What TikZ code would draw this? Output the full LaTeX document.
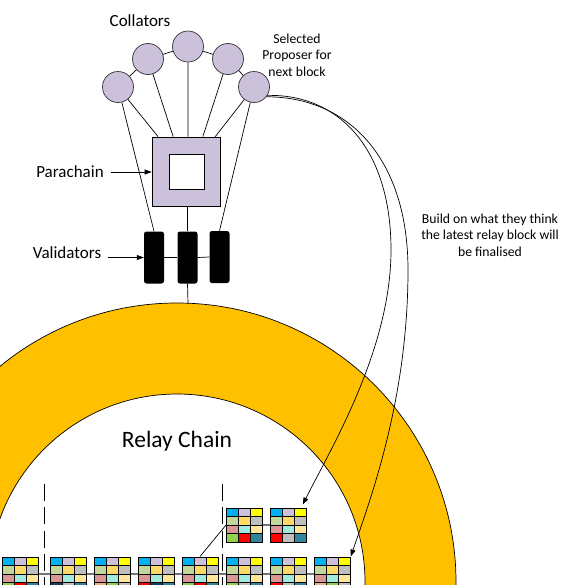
\documentclass[tikz,border=0pt]{standalone}
\usepackage{fontspec}
\setmainfont{Carlito}
\usetikzlibrary{arrows.meta,calc}
\definecolor{ringcol}{HTML}{FFC000}
\definecolor{lav}{HTML}{CCC1DA}
\definecolor{cblue}{HTML}{00B0F0}
\definecolor{clav}{HTML}{CCC0DA}
\definecolor{cyel}{HTML}{FFFF00}
\definecolor{colive}{HTML}{C4D79B}
\definecolor{cgold}{HTML}{FFD966}
\definecolor{cgray}{HTML}{BFBFBF}
\definecolor{crose}{HTML}{DA9694}
\definecolor{caqua}{HTML}{A0EADE}
\definecolor{cly}{HTML}{FFE699}
\definecolor{cgreen}{HTML}{92D050}
\definecolor{cred}{HTML}{FF0000}
\definecolor{cteal}{HTML}{31859C}
\definecolor{cnavy}{HTML}{1F3864}
\definecolor{corange}{HTML}{F4B084}
\newcommand{\chainblock}[6]{%
  \begin{scope}[shift={(#2,#3)}]
    \fill[cblue] (0,0) rectangle (12,8.5);
    \fill[clav] (12,0) rectangle (24,8.5);
    \fill[cyel] (24,0) rectangle (36,8.5);
    \fill[colive] (0,8.5) rectangle (12,17);
    \fill[cgold] (12,8.5) rectangle (24,17);
    \fill[cgray] (24,8.5) rectangle (36,17);
    \fill[crose] (0,17) rectangle (12,25.5);
    \fill[caqua] (12,17) rectangle (24,25.5);
    \fill[cly] (24,17) rectangle (36,25.5);
    \fill[#4] (0,25.5) rectangle (12,34);
    \fill[#5] (12,25.5) rectangle (24,34);
    \fill[#6] (24,25.5) rectangle (36,34);
    \draw[cellline] (12,0) -- (12,34) (24,0) -- (24,34) (0,8.5) -- (36,8.5) (0,17) -- (36,17) (0,25.5) -- (36,25.5);
  \end{scope}
  \node[blockbox] (#1) at (#2+18,#3+17) {};
}
\begin{document}
\begin{tikzpicture}[x=1pt,y=-1pt,
  line/.style={draw=black, line width=0.7pt},
  arr/.style={line, -{Triangle[length=7pt,width=5pt]}},
  collator/.style={circle, draw=black!80, line width=0.7pt, fill=lav, minimum size=31pt, inner sep=0pt},
  validator/.style={rectangle, rounded corners=2.5pt, fill=black, minimum width=20pt, minimum height=52pt, inner sep=0pt},
  parabox/.style={rectangle, draw=black, line width=0.7pt, fill=lav, minimum width=68pt, minimum height=69pt, inner sep=0pt},
  holebox/.style={rectangle, draw=black, line width=0.7pt, fill=white, minimum size=35pt, inner sep=0pt},
  blockbox/.style={rectangle, draw=black, line width=1pt, minimum width=36pt, minimum height=34pt, inner sep=0pt},
  cellline/.style={black, line width=0.6pt},
  chainlink/.style={draw=black!55, line width=1.4pt},
  lbl/.style={font=\fontsize{17}{20}\selectfont, inner sep=0pt},
  note/.style={font=\fontsize{13.7}{16.5}\selectfont, align=center, inner sep=0pt},
  sepline/.style={draw=black, line width=0.7pt, dash pattern=on 17pt off 6.3pt}
]
\useasboundingbox (0,0) rectangle (586,584);

% relay chain ring
\fill[ringcol, even odd rule] (177,582) circle[radius=279pt] (177,582) circle[radius=188pt];
\draw[line] (177,582) circle[radius=279pt];
\draw[line] (177,582) circle[radius=188pt];
\coordinate (ringtop) at (188,303.4);

\node[font=\fontsize{23.5}{28}\selectfont, inner sep=0pt] (relay) at (177,441) {Relay Chain};

% collators
\node[collator] (c1) at (118,87) {};
\node[collator] (c2) at (148,59) {};
\node[collator] (c3) at (188,46.5) {};
\node[collator] (c4) at (228,59) {};
\node[collator] (c5) at (254,87) {};
\draw[line] (c1) -- (c2);
\draw[line] (c2) -- (c3);
\draw[line] (c3) -- (c4);
\draw[line] (c4) -- (c5);

% parachain
\node[parabox] (para) at (186,171.5) {};
\node[holebox] (hole) at (186.5,171.5) {};

% validators
\node[validator] (v1) at (154,257.5) {};
\node[validator] (v2) at (187.5,257.5) {};
\node[validator] (v3) at (219.5,257) {};

\draw[line] (c1) -- ($(para.north west)!0.093!(para.north east)$);
\draw[line] (c2) -- ($(para.north west)!0.313!(para.north east)$);
\draw[line] (c3) -- ($(para.north west)!0.53!(para.north east)$);
\draw[line] (c4) -- ($(para.north west)!0.745!(para.north east)$);
\draw[line] (c5) -- ($(para.north west)!0.926!(para.north east)$);
\draw[line] (c1) -- (v1.north);
\draw[line] (c5) -- (v3.north);
\draw[line] (para.south -| v2.north) -- (v2.north);
\draw[line] (v1.east) -- (v2.west);
\draw[line] (v2.east) -- (v3.west);
\draw[line] (v2.south) -- (ringtop);

% labels
\node[lbl] (coll) at (140,21) {Collators};
\node[lbl] (plabel) at (70,172) {Parachain};
\node[lbl] (vlabel) at (67,253) {Validators};
\draw[arr, shorten <=7pt] (plabel.east) -- (plabel.east -| para.west);
\draw[arr, shorten <=7pt] (vlabel.east |- v1.west) -- (v1.west);
\node[note] (sel) at (297,55) {Selected\\Proposer for\\next block};
\node[note] (build) at (490,235) {Build on what they think\\the latest relay block will\\be finalised};

% dashed separators
\coordinate (d1t) at (44.3,484);
\coordinate (d1b) at (44.3,600);
\coordinate (d2t) at (222.3,484);
\coordinate (d2b) at (222.3,600);
\draw[sepline] (d1t) -- (d1b);
\draw[sepline] (d2t) -- (d2b);

% blocks
\chainblock{b1}{2.3}{557}{cgreen}{cred}{cteal}
\chainblock{b2}{50}{557}{cnavy}{cgray}{cteal}
\chainblock{b3}{94.3}{557}{corange}{cgreen}{cgray}
\chainblock{b4}{138}{557}{cred}{cnavy}{cteal}
\chainblock{b5}{182}{557}{cgreen}{cred}{cteal}
\chainblock{b6}{226.5}{557}{cgreen}{cgray}{cteal}
\chainblock{b7}{270.3}{557}{cred}{cgray}{cteal}
\chainblock{b8}{314.3}{557}{corange}{cgreen}{cgray}
\chainblock{t1}{226.5}{508}{cgreen}{cred}{cteal}
\chainblock{t2}{270.3}{508}{cred}{cgray}{cteal}
\draw[black, line width=1.4pt] (226.5,533.5) -- (262.5,533.5);
\draw[black, line width=1.4pt] (270.3,516.5) -- (306.3,516.5);

\foreach \a/\b in {b1/b2,b2/b3,b3/b4,b4/b5,b5/b6,b6/b7,b7/b8,t1/t2}
  \draw[chainlink] (\a.east) -- (\b.west);
\draw[line] (b5.north) -- (t1.west);

% proposer curves
\coordinate (tip1) at ($(t2.north east)+(-4,-3)$);
\draw[arr] (c5.-32) .. controls (340,94) and (391,150) .. (391,250)
  .. controls (391,350) and (330,450) .. (tip1);
\draw[arr] (c5.-38) .. controls (350,97) and (408,160) .. (408,270)
  .. controls (408,400) and (370,500) .. (b8.north east);
\end{tikzpicture}
\end{document}
